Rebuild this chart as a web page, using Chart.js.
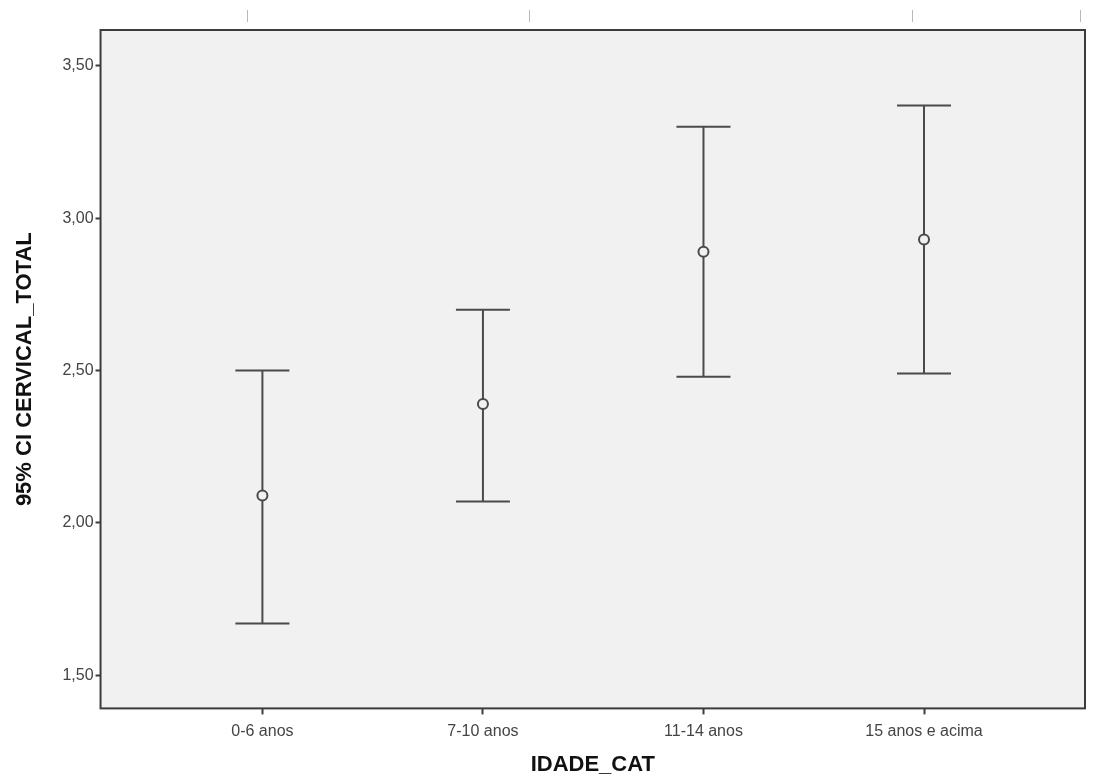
<!DOCTYPE html>
<html>
<head>
<meta charset="utf-8">
<script src="https://cdn.jsdelivr.net/npm/chart.js@4/dist/chart.umd.min.js"></script>
<style>
    html, body { margin: 0; padding: 0; background: #fff; }
    #wrap { width: 1102px; height: 778px; position: relative; }
</style>
</head>
<body>
<div id="wrap"><canvas id="diagram"></canvas></div>
<script type="text/javascript">
    // values
    var categories = ['0-6 anos', '7-10 anos', '11-14 anos', '15 anos e acima'];
    var means = [2.09, 2.39, 2.89, 2.93];
    var lower = [1.67, 2.07, 2.48, 2.49];
    var upper = [2.50, 2.70, 3.30, 3.37];
    var yTicks = [1.5, 2.0, 2.5, 3.0, 3.5];

    var lineColour = '#4a4a4a';
    var plotBg = '#f0f1f0';

    // build the point lists for the library
    var meanPts = [], capPts = [], whiskerPts = [];
    for (var i = 0; i < categories.length; i++) {
        meanPts.push({x: i, y: means[i]});
        capPts.push({x: i, y: lower[i]});
        capPts.push({x: i, y: upper[i]});
        whiskerPts.push({x: i, y: lower[i]});
        whiskerPts.push({x: i, y: upper[i]});
        whiskerPts.push({x: i, y: null});
    }

    // plot frame, background and the stray marks above the frame
    var framePlugin = {
        id: 'frame',
        beforeDraw: function(chart) {
            var a = chart.chartArea, ctx = chart.ctx;
            ctx.save();
            ctx.fillStyle = plotBg;
            ctx.fillRect(a.left, a.top, a.right - a.left, a.bottom - a.top);
            ctx.restore();
        },
        afterDraw: function(chart) {
            var a = chart.chartArea, ctx = chart.ctx;
            ctx.save();
            ctx.strokeStyle = '#3c3c3c';
            ctx.lineWidth = 2;
            ctx.strokeRect(a.left, a.top, a.right - a.left, a.bottom - a.top);
            ctx.strokeStyle = '#b8b8b8';
            ctx.lineWidth = 1;
            [247, 529, 912, 1080].forEach(function(px) {
                ctx.beginPath();
                ctx.moveTo(px + 0.5, 10);
                ctx.lineTo(px + 0.5, 22);
                ctx.stroke();
            });
            ctx.restore();
        }
    };

    var ctx = document.getElementById('diagram');
    var chart = new Chart(ctx, {
        type: 'scatter',
        data: {
            datasets: [
                {
                    label: 'mean',
                    data: meanPts,
                    pointStyle: 'circle',
                    pointRadius: 5,
                    pointBorderWidth: 2,
                    pointBackgroundColor: plotBg,
                    pointBorderColor: lineColour,
                    showLine: false
                },
                {
                    label: 'caps',
                    data: capPts,
                    pointStyle: 'line',
                    pointRadius: 27,
                    pointBorderWidth: 2,
                    pointBorderColor: lineColour,
                    showLine: false
                },
                {
                    label: 'whisker',
                    type: 'line',
                    data: whiskerPts,
                    borderColor: lineColour,
                    borderWidth: 2,
                    pointRadius: 0,
                    spanGaps: false,
                    fill: false
                }
            ]
        },
        options: {
            responsive: true,
            maintainAspectRatio: false,
            animation: false,
            layout: {
                autoPadding: false,
                padding: { top: 30, right: 17, left: 12, bottom: 0 }
            },
            plugins: {
                legend: { display: false },
                tooltip: { enabled: false }
            },
            scales: {
                x: {
                    type: 'linear',
                    min: -0.734,
                    max: 3.73,
                    afterBuildTicks: function(axis) {
                        axis.ticks = categories.map(function(c, i) { return {value: i}; });
                    },
                    ticks: {
                        color: '#444',
                        font: { family: 'Liberation Sans', size: 16 },
                        padding: 8,
                        maxRotation: 0,
                        callback: function(v) { return categories[v]; }
                    },
                    grid: {
                        drawOnChartArea: false,
                        drawTicks: true,
                        tickLength: 6,
                        tickWidth: 2,
                        color: '#3c3c3c'
                    },
                    border: { display: false },
                    title: {
                        display: true,
                        text: 'IDADE_CAT',
                        color: '#111',
                        font: { family: 'Liberation Sans', size: 22, weight: 'bold' },
                        padding: { top: 2, bottom: 0 }
                    }
                },
                y: {
                    min: 1.391,
                    max: 3.618,
                    afterBuildTicks: function(axis) {
                        axis.ticks = yTicks.map(function(v) { return {value: v}; });
                    },
                    ticks: {
                        color: '#444',
                        font: { family: 'Liberation Sans', size: 16 },
                        padding: 2,
                        callback: function(v) { return v.toFixed(2).replace('.', ','); }
                    },
                    grid: {
                        drawOnChartArea: false,
                        drawTicks: true,
                        tickLength: 5,
                        tickWidth: 2,
                        color: '#3c3c3c'
                    },
                    border: { display: false },
                    title: {
                        display: true,
                        text: '95% CI CERVICAL_TOTAL',
                        color: '#111',
                        font: { family: 'Liberation Sans', size: 22, weight: 'bold' },
                        padding: { top: 0, bottom: 22 }
                    }
                }
            }
        },
        plugins: [framePlugin]
    });
</script>
</body>
</html>
